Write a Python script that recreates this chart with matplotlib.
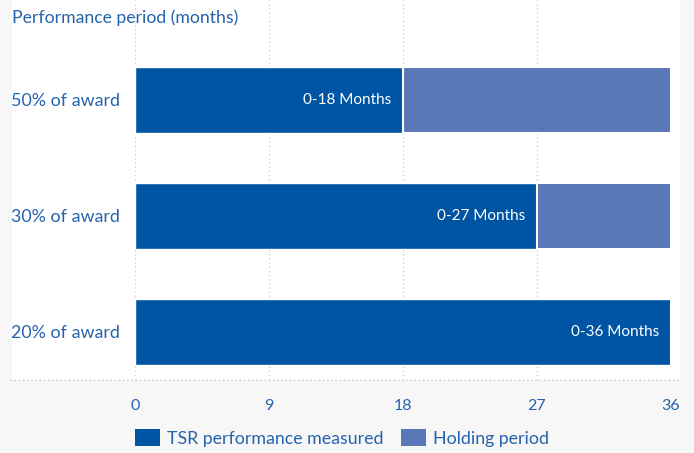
import matplotlib.pyplot as plt
from matplotlib.patches import Rectangle, Patch
from matplotlib.lines import Line2D

plt.rcParams['font.family'] = ['Lato', 'DejaVu Sans']

# data
categories = ['20% of award', '30% of award', '50% of award']
measured = [36, 27, 18]
holding = [0, 9, 18]
bar_labels = ['0-36 Months', '0-27 Months', '0-18 Months']
xticks = [0, 9, 18, 27, 36]

DARK = '#0054a4'
LIGHT = '#5878b8'
TXT = '#2563ad'
BG = '#f7f7f7'

W, H = 694, 453
fig = plt.figure(figsize=(W / 100, H / 100), dpi=100)
fig.patch.set_facecolor(BG)

# white panel behind the chart
fig.patches.append(Rectangle((12 / W, 1 - 380 / H), (680 - 12) / W, 380 / H,
                             transform=fig.transFigure, facecolor='white',
                             edgecolor='none', zorder=-5))
fig.lines.append(Line2D([10 / W, 680 / W], [1 - 380 / H] * 2, transform=fig.transFigure,
                        color='#c8c8c8', linestyle=(0, (1, 2)), linewidth=1, zorder=-4))

ax = fig.add_axes([135 / W, 1 - 380 / H, (671 - 135) / W, 380 / H])
ax.set_facecolor('none')
ypos = range(len(categories))
ax.barh(ypos, measured, height=0.57, color=DARK, edgecolor='white', linewidth=1, zorder=3)
ax.barh(ypos, holding, left=measured, height=0.57, color=LIGHT, edgecolor='white',
        linewidth=1.5, zorder=3)

for y, m, lab in zip(ypos, measured, bar_labels):
    ax.text(m - 0.8, y, lab, color='white', ha='right', va='center', fontsize=11, zorder=4)

ax.set_xlim(0, 36)
ax.set_ylim(-48 / 116, 332 / 116)
ax.set_xticks(xticks)
ax.set_yticks(list(ypos))
ax.set_yticklabels(categories)
ax.tick_params(axis='y', length=0, pad=11, labelsize=12.9, labelcolor=TXT)
ax.tick_params(axis='x', length=0, pad=14, labelsize=11.5, labelcolor=TXT)
for s in ax.spines.values():
    s.set_visible(False)
ax.grid(axis='x', color='#cfcfcf', linestyle=(0, (1, 2)), linewidth=1, zorder=0)
ax.set_axisbelow(True)

fig.text(12 / W, 1 - 18 / H, 'Performance period (months)', color=TXT, fontsize=12.7,
         ha='left', va='center')

handles = [Patch(facecolor=DARK, label='TSR performance measured'),
           Patch(facecolor=LIGHT, label='Holding period')]
fig.legend(handles=handles, loc='center left', bbox_to_anchor=(135 / W, 1 - 438 / H),
           ncol=2, frameon=False, fontsize=12.8, labelcolor=TXT, handlelength=1.4,
           handleheight=1.1, handletextpad=0.4, columnspacing=1.0,
           borderpad=0, borderaxespad=0)

fig.savefig('out.png', dpi=100, facecolor=fig.get_facecolor())
